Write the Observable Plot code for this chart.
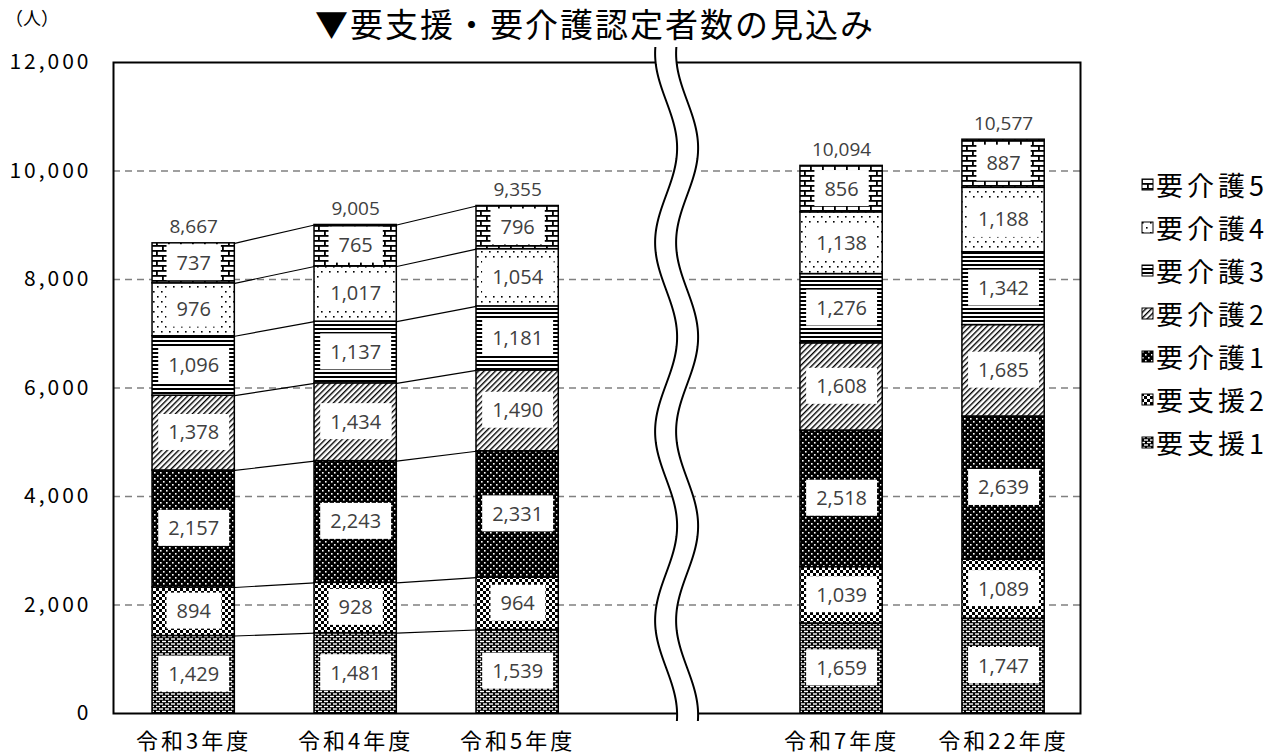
<!DOCTYPE html>
<html><head><meta charset="utf-8">
<script src="https://cdn.jsdelivr.net/npm/d3@7"></script>
<script src="https://cdn.jsdelivr.net/npm/@observablehq/plot@0.6"></script>
<style>
body{margin:0;background:#fff;}
#wrap{position:relative;width:1286px;height:756px;overflow:hidden;background:#fff;}
#chart{position:absolute;left:0;top:0;}
#title{position:absolute;left:0;width:1190px;text-align:center;top:4px;font:33px/1.2 "Noto Sans CJK JP";color:#000;white-space:nowrap;letter-spacing:2px;}
#unit{position:absolute;left:5px;top:8px;font:18px/1 "Noto Sans CJK JP";color:#000;}
#legend{position:absolute;left:1141px;top:163px;font:27px/1 "Noto Sans CJK JP";color:#000;letter-spacing:4px;}
.li{display:flex;align-items:center;height:43px;}
.li svg{margin-right:2px;}
</style></head>
<body>
<svg width="0" height="0" style="position:absolute">
<defs>
  <pattern id="pat0" patternUnits="userSpaceOnUse" width="6" height="5">
    <rect width="6" height="5" fill="#000"/>
    <rect x="0" y="0.8" width="4" height="1.4" fill="#fff"/>
    <rect x="3" y="3.3" width="4" height="1.4" fill="#fff"/>
    <rect x="-3" y="3.3" width="4" height="1.4" fill="#fff"/>
  </pattern>
  <pattern id="pat1" patternUnits="userSpaceOnUse" width="6" height="6">
    <rect width="6" height="6" fill="#fff"/>
    <rect x="0" y="0" width="3" height="3" fill="#000"/>
    <rect x="3" y="3" width="3" height="3" fill="#000"/>
  </pattern>
  <pattern id="pat2" patternUnits="userSpaceOnUse" width="6" height="6">
    <rect width="6" height="6" fill="#000"/>
    <rect x="1" y="1" width="1.6" height="1.6" fill="#fff"/>
    <rect x="4" y="4" width="1.6" height="1.6" fill="#fff"/>
  </pattern>
  <pattern id="pat3" patternUnits="userSpaceOnUse" width="4" height="4" patternTransform="rotate(45)">
    <rect width="4" height="4" fill="#fff"/>
    <rect x="0" y="0" width="1.4" height="4" fill="#000"/>
  </pattern>
  <pattern id="pat4" patternUnits="userSpaceOnUse" width="4" height="4">
    <rect width="4" height="4" fill="#fff"/>
    <rect x="0" y="0" width="4" height="2" fill="#000"/>
  </pattern>
  <pattern id="pat5" patternUnits="userSpaceOnUse" width="8" height="10">
    <rect width="8" height="10" fill="#fff"/>
    <rect x="1" y="1" width="1.6" height="1.6" fill="#000"/>
    <rect x="5" y="6" width="1.6" height="1.6" fill="#000"/>
  </pattern>
  <pattern id="pat6" patternUnits="userSpaceOnUse" width="12" height="10">
    <rect width="12" height="10" fill="#fff"/>
    <rect x="0" y="0" width="12" height="1.8" fill="#000"/>
    <rect x="0" y="5" width="12" height="1.8" fill="#000"/>
    <rect x="0" y="0" width="1.8" height="5" fill="#000"/>
    <rect x="6" y="5" width="1.8" height="5" fill="#000"/>
  </pattern>
</defs>
</svg>
<div id="wrap">
  <div id="chart"></div>
  <div id="title">▼要支援・要介護認定者数の見込み</div>
  <div id="unit">（人）</div>
  <div id="legend"></div>
</div>
<script>
// ---- data ----
const years = ["令和3年度", "令和4年度", "令和5年度", "令和7年度", "令和22年度"];
const seriesNames = ["要支援1", "要支援2", "要介護1", "要介護2", "要介護3", "要介護4", "要介護5"];
const support1 = [1429, 1481, 1539, 1659, 1747];
const support2 = [894, 928, 964, 1039, 1089];
const care1 = [2157, 2243, 2331, 2518, 2639];
const care2 = [1378, 1434, 1490, 1608, 1685];
const care3 = [1096, 1137, 1181, 1276, 1342];
const care4 = [976, 1017, 1054, 1138, 1188];
const care5 = [737, 765, 796, 856, 887];
const totals = [8667, 9005, 9355, 10094, 10577];
const yTicks = [0, 2000, 4000, 6000, 8000, 10000, 12000];
const gridTicks = [2000, 4000, 6000, 8000, 10000];

const values = [support1, support2, care1, care2, care3, care4, care5];
// slot positions leave one empty slot for the axis break
const slots = years.map((_, i) => (i < 3 ? i : i + 1));
const breakSlot = 3;
const hw = 0.254;
const fmt = d3.format(",");

const rows = [];
years.forEach((year, i) => {
  let acc = 0;
  values.forEach((arr, k) => {
    rows.push({k, series: seriesNames[k], year, slot: slots[i], value: arr[i], y1: acc, y2: acc + arr[i]});
    acc += arr[i];
  });
});
const totRows = years.map((year, i) => ({year, slot: slots[i], total: totals[i]}));

// connector lines between the first three bars
const links = [];
for (let i = 0; i < 2; i++) {
  for (let k = 0; k < values.length; k++) {
    const a = rows.find(r => r.year === years[i] && r.k === k);
    const b = rows.find(r => r.year === years[i + 1] && r.k === k);
    links.push({x1: a.slot + hw, y1: a.y2, x2: b.slot - hw, y2: b.y2});
  }
}

const font = "Noto Sans CJK JP";
const barMarks = values.map((_, k) =>
  Plot.rectY(rows.filter(r => r.k === k), {
    x1: d => d.slot - hw, x2: d => d.slot + hw, y1: "y1", y2: "y2",
    fill: `url(#pat${k})`, stroke: "#000", strokeWidth: 1.5
  })
);

const chart = Plot.plot({
  width: 1286, height: 756,
  marginLeft: 113, marginRight: 206, marginTop: 62, marginBottom: 43,
  style: {fontFamily: font, fontSize: "20px", background: "white", color: "#000"},
  x: {domain: [-0.495, 5.475], axis: null},
  y: {domain: [0, 12000], axis: null},
  marks: [
    Plot.ruleY(gridTicks, {stroke: "#808080", strokeWidth: 1.5, strokeDasharray: "7,5"}),
    ...barMarks,
    Plot.link(links, {x1: "x1", y1: "y1", x2: "x2", y2: "y2", stroke: "#000", strokeWidth: 1.2}),
    Plot.text(rows, {x: "slot", y: d => (d.y1 + d.y2) / 2, text: d => fmt(d.value), fill: "#404040",
      fontSize: 20, fontFamily: "Open Sans"}),
    Plot.text(totRows, {x: "slot", y: "total", dy: -16, text: d => fmt(d.total), fill: "#404040",
      fontSize: 19, fontFamily: "Open Sans"}),
    Plot.frame({stroke: "#000", strokeWidth: 2}),
    Plot.axisY(yTicks, {tickSize: 0, tickPadding: 22, tickFormat: fmt, fontSize: 21, fontFamily: font, label: null}),
    Plot.axisX(slots, {tickSize: 0, tickPadding: 20, tickFormat: v => years[slots.indexOf(v)], fontSize: 22, fontFamily: font, label: null})
  ]
});
document.getElementById("chart").append(chart);

// white boxes behind value labels (first text mark)
const ns = "http://www.w3.org/2000/svg";
const lg = chart.querySelectorAll('g[aria-label="text"]')[0];
if (lg) {
  const boxG = document.createElementNS(ns, "g");
  if (lg.getAttribute("transform")) boxG.setAttribute("transform", lg.getAttribute("transform"));
  lg.parentNode.insertBefore(boxG, lg);
  lg.querySelectorAll("text").forEach(t => {
    const b = t.getBBox();
    const r = document.createElementNS(ns, "rect");
    const cy = b.y + b.height / 2;
    r.setAttribute("x", b.x - 10);
    r.setAttribute("y", cy - 18);
    r.setAttribute("width", b.width + 20);
    r.setAttribute("height", 36);
    r.setAttribute("fill", "#fff");
    if (t.getAttribute("transform")) r.setAttribute("transform", t.getAttribute("transform"));
    boxG.appendChild(r);
  });
}
// letter spacing on axis tick labels
chart.querySelectorAll('g[aria-label="y-axis tick label"] text').forEach(t => t.style.letterSpacing = "3px");
chart.querySelectorAll('g[aria-label="x-axis tick label"] text').forEach(t => t.style.letterSpacing = "3px");

// axis break symbol (decoration)
const xs = chart.scale("x");
const cx = xs.apply(breakSlot);
const yTop = 47, yBot = 722;
const wave = (off, y) => cx + off + 11 * Math.cos(2 * Math.PI * (y - 148) / 189);
const ys = d3.range(yTop, yBot + 0.5, 2);
const leftPts = ys.map(y => [wave(-13, y), y]);
const rightPts = ys.map(y => [wave(8, y), y]);
const line = d3.line();
const bg = d3.select(chart).append("g");
bg.append("path").attr("d", line(leftPts.concat(rightPts.slice().reverse())) + "Z").attr("fill", "#fff");
bg.append("path").attr("d", line(leftPts)).attr("fill", "none").attr("stroke", "#000").attr("stroke-width", 2);
bg.append("path").attr("d", line(rightPts)).attr("fill", "none").attr("stroke", "#000").attr("stroke-width", 2);

// legend
const legend = d3.select("#legend");
for (let k = seriesNames.length - 1; k >= 0; k--) {
  const item = legend.append("div").attr("class", "li");
  const sw = item.append("svg").attr("width", 13).attr("height", 13);
  sw.append("rect").attr("x", 1).attr("y", 1).attr("width", 11).attr("height", 11)
    .attr("fill", `url(#pat${k})`).attr("stroke", "#000").attr("stroke-width", 1);
  item.append("span").text(seriesNames[k]);
}
</script>
</body></html>
